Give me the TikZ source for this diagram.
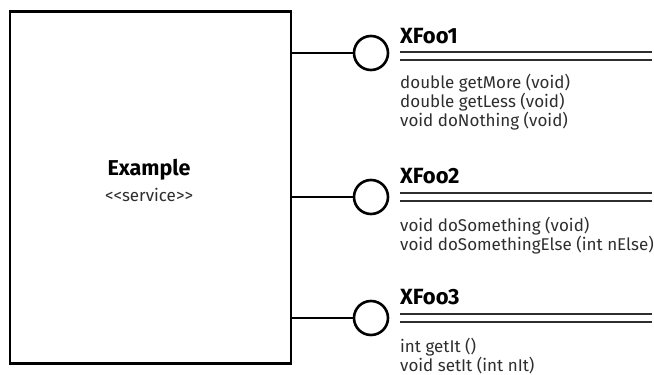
\documentclass[tikz,border=0pt]{standalone}
\usepackage{fontspec}
\setmainfont{Fira Sans}
\usetikzlibrary{positioning}
\definecolor{txtgray}{HTML}{2E2E2E}
\tikzset{
  classbox/.style={draw, line width=2.6pt, minimum width=281pt, minimum height=352pt, inner sep=0pt},
  lolly/.style={circle, draw, line width=2.6pt, minimum size=34pt, inner sep=0pt},
  wire/.style={line width=2.6pt},
  ifname/.style={anchor=base west, inner sep=0pt, font=\bfseries\fontsize{22}{22}\selectfont},
  method/.style={anchor=base west, inner sep=0pt, text=txtgray, font=\fontsize{17}{19}\selectfont},
  sepline/.style={line width=1.3pt, txtgray}
}

\begin{document}
\begin{tikzpicture}[x=1pt,y=-1pt]
  \useasboundingbox (0,0) rectangle (654,375);

  % the service
  \node[classbox] (example) at (150.5,187.5) {};
  \node[anchor=base, inner sep=0pt, font=\bfseries\fontsize{21.5}{22}\selectfont] (exname) at (149,175) {Example};
  \node[anchor=base, inner sep=0pt, text=txtgray, font=\fontsize{17}{19}\selectfont] (exster) at (149,201) {{<}{<}service{>}{>}};

  % interfaces
  \node[lolly] (if1) at (371,53) {};
  \node[lolly] (if2) at (371,197) {};
  \node[lolly] (if3) at (371,318) {};

  \draw[wire] (example.east |- if1) -- (if1.west);
  \draw[wire] (example.east |- if2) -- (if2.west);
  \draw[wire] (example.east |- if3) -- (if3.west);

  \node[ifname] (xfoo1) at (400,43) {XFoo1};
  \draw[sepline] (400,52) -- (652,52);
  \draw[sepline] (400,60) -- (652,60);
  \node[method] (m11) at (400,88) {double getMore (void)};
  \node[method] (m12) at (400,107) {double getLess (void)};
  \node[method] (m13) at (400,126) {void doNothing (void)};

  \node[ifname] (xfoo2) at (400,183) {XFoo2};
  \draw[sepline] (400,193) -- (652,193);
  \draw[sepline] (400,201) -- (652,201);
  \node[method] (m21) at (400,231) {void doSomething (void)};
  \node[method] (m22) at (400,250) {void doSomethingElse (int nElse)};

  \node[ifname] (xfoo3) at (400,304) {XFoo3};
  \draw[sepline] (400,314) -- (652,314);
  \draw[sepline] (400,322) -- (652,322);
  \node[method] (m31) at (400,352) {int getIt ()};
  \node[method] (m32) at (400,371) {void setIt (int nIt)};
\end{tikzpicture}
\end{document}
